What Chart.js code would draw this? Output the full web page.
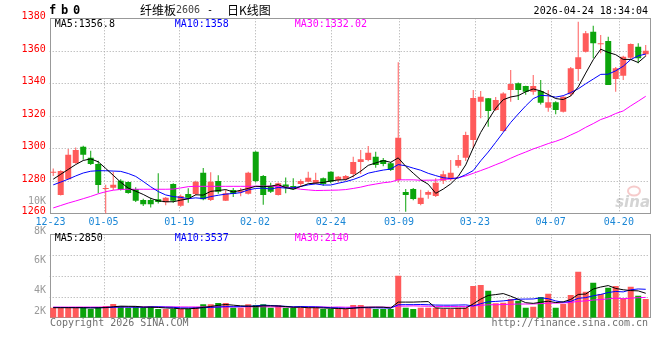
<!DOCTYPE html>
<html>
<head>
<meta charset="utf-8">
<script src="https://cdn.jsdelivr.net/npm/chart.js"></script>
<style>
  html, body { margin: 0; padding: 0; background: #fff; }
  #wrap { position: relative; width: 660px; height: 360px; overflow: hidden; }
  canvas { position: absolute; left: 0; }
  #k { top: 0; }
  #v { top: 190px; }
</style>
</head>
<body>
<div id="wrap">
  <canvas id="k" width="660" height="230"></canvas>
  <canvas id="v" width="660" height="170"></canvas>
</div>
<script>
// trading days shown on the chart
const dates = ['12-23','12-24','12-25','12-26','12-29','12-30','12-31',
  '01-05','01-06','01-07','01-08','01-09','01-12','01-13','01-14','01-15','01-16',
  '01-19','01-20','01-21','01-22','01-23','01-26','01-27','01-28','01-29','01-30',
  '02-02','02-03','02-04','02-05','02-06','02-09','02-10','02-11','02-12','02-13',
  '02-24','02-25','02-26','02-27',
  '03-02','03-03','03-04','03-05','03-06','03-09','03-10','03-11','03-12','03-13',
  '03-16','03-17','03-18','03-19','03-20','03-23','03-24','03-25','03-26','03-27','03-30','03-31',
  '04-01','04-02','04-03','04-07','04-08','04-09','04-10','04-13','04-14','04-15','04-16','04-17',
  '04-20','04-21','04-22','04-23','04-24'];

const open = [1285.0,1271.3,1281.0,1291.0,1301.0,1294.2,1290.3,1275.0,1275.8,1280.0,
  1279.3,1275.0,1268.2,1268.2,1268.6,1266.8,1278.0,1264.7,1271.9,1271.9,
  1285.0,1268.2,1279.9,1267.8,1274.3,1273.0,1272.0,1297.9,1283.0,1276.8,
  1271.3,1277.8,1276.8,1278.0,1279.4,1278.5,1281.5,1285.6,1280.5,1281.0,
  1284.2,1291.6,1292.8,1294.8,1292.8,1290.8,1280.5,1273.1,1275.0,1265.7,
  1271.4,1270.6,1280.1,1281.0,1289.3,1294.2,1305.1,1328.7,1330.8,1323.6,
  1310.6,1335.9,1340.0,1338.3,1334.8,1335.3,1325.0,1328.3,1322.5,1333.2,
  1348.8,1359.4,1371.8,1364.0,1366.0,1342.6,1344.7,1355.8,1362.5,1357.9];
const high = [1287.5,1286.5,1299.5,1300.5,1301.5,1298.5,1292.4,1277.5,1285.6,1281.0,
  1279.5,1276.0,1269.0,1269.5,1284.6,1270.0,1278.5,1271.5,1275.4,1280.0,
  1287.9,1285.2,1283.4,1274.5,1275.5,1275.5,1285.6,1298.2,1283.5,1278.8,
  1279.0,1282.0,1281.5,1281.0,1285.6,1284.9,1282.0,1285.8,1283.0,1283.5,
  1294.8,1299.0,1301.4,1297.9,1294.0,1291.5,1353.0,1275.0,1275.5,1274.5,
  1274.0,1281.5,1286.2,1292.8,1295.9,1310.2,1335.9,1335.3,1331.0,1331.5,
  1334.5,1348.2,1340.5,1338.5,1345.1,1342.0,1335.9,1329.0,1332.0,1350.0,
  1377.9,1372.2,1375.4,1369.7,1368.7,1350.0,1357.0,1364.5,1364.6,1363.6];
const low = [1283.0,1271.0,1281.0,1290.5,1293.0,1289.7,1272.3,1259.5,1274.3,1274.0,
  1272.0,1267.0,1264.5,1263.5,1266.0,1265.0,1266.5,1264.0,1266.5,1271.0,
  1268.0,1267.5,1272.0,1267.5,1270.0,1270.5,1271.5,1279.0,1265.3,1272.5,
  1271.0,1272.3,1274.5,1276.5,1279.0,1278.0,1277.0,1278.5,1279.0,1280.0,
  1282.0,1284.2,1292.0,1288.1,1289.0,1286.0,1279.0,1261.0,1268.0,1265.0,
  1269.0,1270.0,1278.0,1280.0,1288.0,1292.2,1300.0,1318.5,1313.3,1323.0,
  1310.0,1328.7,1329.7,1333.0,1333.0,1327.0,1322.5,1321.0,1322.0,1332.0,
  1341.4,1359.0,1355.4,1358.5,1339.0,1334.8,1342.0,1355.0,1352.3,1356.5];
const close = [1285.5,1286.0,1296.0,1299.0,1296.0,1290.3,1277.4,1275.5,1277.6,1274.5,
  1272.5,1267.8,1265.5,1265.5,1267.0,1269.6,1267.8,1270.6,1269.6,1279.4,
  1268.6,1279.4,1273.2,1272.3,1271.9,1274.0,1285.0,1279.9,1271.3,1273.3,
  1278.5,1276.0,1274.8,1279.9,1281.9,1280.5,1278.0,1279.4,1282.5,1283.0,
  1291.6,1293.2,1297.3,1289.7,1290.3,1286.6,1306.5,1271.3,1268.8,1269.6,
  1273.1,1278.8,1284.0,1285.0,1292.8,1308.2,1331.0,1331.8,1323.0,1329.7,
  1333.8,1339.6,1335.9,1334.8,1338.3,1328.1,1328.3,1323.6,1331.8,1349.2,
  1356.0,1370.8,1364.6,1364.5,1339.0,1349.2,1356.4,1364.2,1355.4,1360.1];

const ma5 = [1281.0,1284.0,1287.0,1290.0,1292.5,1293.5,1291.7,1287.6,1283.4,1279.1,
  1275.5,1273.6,1271.6,1269.2,1267.7,1267.1,1267.1,1268.1,1268.9,1271.4,
  1271.2,1273.5,1274.0,1274.6,1273.1,1274.2,1275.3,1276.6,1276.4,1276.7,
  1277.6,1275.8,1274.8,1276.5,1278.2,1278.6,1279.0,1279.9,1280.5,1280.7,
  1282.9,1285.9,1289.5,1291.0,1292.4,1291.4,1294.1,1288.9,1284.7,1280.6,
  1277.9,1272.3,1274.9,1278.1,1282.7,1289.8,1300.2,1309.8,1317.4,1324.7,
  1329.9,1331.6,1332.4,1334.8,1336.5,1335.3,1333.1,1330.6,1330.0,1332.2,
  1337.8,1346.3,1354.5,1361.0,1359.0,1357.6,1354.7,1354.7,1352.8,1356.8];
const ma10 = [1277.5,1279.2,1281.0,1283.0,1284.8,1285.9,1286.2,1286.2,1286.0,1285.8,
  1284.5,1282.7,1279.6,1276.3,1273.4,1271.3,1270.3,1269.8,1269.0,1269.5,
  1269.1,1270.3,1271.1,1271.8,1272.2,1272.7,1274.4,1275.3,1275.5,1274.9,
  1275.9,1275.5,1275.7,1276.5,1277.5,1278.1,1277.4,1277.4,1278.5,1279.5,
  1280.8,1282.5,1284.7,1285.7,1286.6,1287.2,1290.0,1289.2,1287.8,1286.5,
  1284.6,1283.2,1281.9,1281.4,1281.7,1283.8,1286.3,1292.3,1297.7,1303.7,
  1309.8,1315.9,1321.1,1326.1,1330.6,1332.6,1332.3,1331.5,1332.4,1334.3,
  1336.6,1339.7,1342.6,1345.5,1345.6,1347.7,1350.5,1354.6,1356.9,1358];
const ma30 = [1263.3,1264.8,1266.3,1267.6,1269.0,1270.4,1272.0,1273.3,1274.2,1274.7,
  1274.8,1274.8,1274.8,1274.8,1274.8,1274.8,1274.9,1275.6,1276.4,1276.6,
  1276.6,1276.6,1276.6,1276.6,1276.6,1276.6,1276.6,1276.7,1276.7,1276.7,
  1276.5,1276.2,1275.5,1274.8,1274.4,1274.0,1274.1,1274.2,1274.3,1274.6,
  1275.3,1276.1,1277.2,1278.0,1278.8,1279.3,1280.6,1280.6,1280.6,1280.3,
  1280.4,1280.4,1280.8,1281.2,1281.9,1283.0,1284.6,1286.3,1288.0,1289.9,
  1291.7,1293.9,1295.9,1297.7,1299.6,1301.2,1302.9,1304.3,1306.0,1308.2,
  1310.3,1312.9,1315.2,1317.7,1319.3,1321.4,1323.0,1326.1,1329.0,1332.02];

const vol = [370,370,370,370,370,141,485,657,1001,657,
  370,599,370,599,141,141,141,141,141,485,
  943,943,1173,1173,370,370,943,829,943,370,
  771,370,370,370,370,370,141,141,141,141,
  829,829,370,141,141,141,5874,370,141,370,
  370,370,141,141,370,370,4096,4268,3294,1115,
  1230,1860,1574,370,542,2204,2778,370,1001,2548,
  6561,3122,4670,2720,3810,4096,1975,3982,2434,1860];
const volMa5 = [370,370,370,370,370,324,347,405,531,634,
  611,599,473,462,416,324,278,187,187,256,
  416,576,783,920,806,691,645,576,691,691,
  657,565,450,450,370,370,324,278,233,187,
  279,416,462,462,462,324,1333,1333,1333,1379,
  1425,324,278,278,278,278,1024,1849,2480,2629,
  2801,2353,1815,1230,1115,1310,1494,1253,1379,1780,
  2652,2720,3580,3924,4177,3684,3454,3317,3259,2850];
const volMa10 = [420,410,400,390,380,370,370,380,420,502,
  468,473,439,496,525,468,439,330,324,336,
  370,427,485,554,531,554,611,680,806,748,
  674,605,513,571,531,513,445,364,341,278,
  324,370,370,347,324,302,875,898,898,921,
  875,829,806,806,829,852,674,1064,1379,1454,
  1540,1689,1832,1855,1872,2055,1924,1534,1304,1448,
  1981,2107,2417,2652,2978,3168,3087,3449,3592,3537];
const volMa30 = [470,470,475,480,480,480,485,490,500,510,
  510,515,515,520,520,515,510,505,500,500,
  505,510,515,520,520,520,525,530,530,529,
  504,502,479,540,529,512,498,458,490,454,
  456,468,456,491,462,456,643,647,682,649,
  624,601,563,575,561,556,664,775,873,884,
  913,963,1003,1003,1008,1070,1157,1165,1194,1274,
  1465,1541,1685,1771,1893,2025,1895,2015,2092,2140];

const axisDates = ['12-23','01-05','01-19','02-02','02-24','03-09','03-23','04-07','04-20'];
const volTickValues = [10000, 8000, 6000, 4000, 2000];
const volTickLabels = ['10K','8K','6K','4K','2K'];

const UP = '#ff5a5a', DOWN = '#0ba40b';
const MONO = "'DejaVu Sans Mono', monospace";
const CJK = "'Noto Sans CJK SC', sans-serif";
const colorAt = i => close[i] >= open[i] ? UP : DOWN;
const pts = arr => arr.map((v, i) => ({ x: i, y: v }));
// the date grid of the original drifts slightly against the candles
const tickPos = i => i - 0.37 + i * 0.0105;
const axisTicks = axisDates.map(d => tickPos(dates.indexOf(d)));
const VOL_MIN = -1350, VOL_MAX = 12995;

function xScale(show) {
  return {
    type: 'linear', min: -0.47, max: 79.53, offset: false, display: show,
    afterBuildTicks: s => { s.ticks = axisTicks.map(v => ({ value: v })); },
    grid: { display: false, drawTicks: false, offset: false },
    border: { display: false },
    ticks: {
      autoSkip: false, maxRotation: 0, padding: 3, color: '#1b87d6',
      font: { family: MONO, size: 10 },
      callback: (v, idx) => axisDates[idx]
    },
    afterFit: s => { if (show) s.height = 16.7; }
  };
}

function dotted(ctx, x1, y1, x2, y2) {
  ctx.beginPath();
  ctx.moveTo(x1, y1);
  ctx.lineTo(x2, y2);
  ctx.stroke();
}

function drawFrame(chart, hLines) {
  const { ctx, chartArea: a } = chart;
  const xs = chart.scales.x;
  ctx.save();
  ctx.strokeStyle = '#a8a8a8';
  ctx.lineWidth = 1;
  ctx.setLineDash([1, 2]);
  hLines.forEach(y => {
    const yy = Math.round(y) + 0.5;
    dotted(ctx, a.left, yy, a.right, yy);
  });
  axisTicks.slice(1).forEach(v => {
    const xx = Math.round(xs.getPixelForValue(v)) + 0.5;
    dotted(ctx, xx, a.top, xx, a.bottom);
  });
  ctx.setLineDash([]);
  ctx.strokeStyle = '#999';
  ctx.strokeRect(Math.round(a.left) + 0.5, Math.round(a.top) + 0.5,
    Math.round(a.right - a.left), Math.round(a.bottom - a.top));
  ctx.restore();
}

function legendText(chart, items, dy) {
  const { ctx, chartArea: a } = chart;
  ctx.save();
  ctx.font = '10px ' + MONO;
  ctx.textBaseline = 'middle';
  ctx.textAlign = 'left';
  items.forEach((it, k) => {
    ctx.fillStyle = it[1];
    ctx.fillText(it[0], a.left + 5 + k * 120, a.top + dy);
  });
  ctx.restore();
}

const kDeco = {
  id: 'kDeco',
  beforeDatasetsDraw(chart) {
    const ys = chart.scales.y;
    const lines = ys.ticks.map(t => ys.getPixelForValue(t.value))
      .filter(p => p > chart.chartArea.top + 1 && p < chart.chartArea.bottom - 1);
    drawFrame(chart, lines);
    // sina watermark
    const ctx = chart.ctx;
    ctx.save();
    ctx.strokeStyle = 'rgba(235,140,140,0.45)';
    ctx.lineWidth = 2;
    ctx.beginPath();
    ctx.ellipse(634, 191, 6, 4.5, 0, 0, Math.PI * 2);
    ctx.stroke();
    ctx.fillStyle = 'rgba(160,160,160,0.45)';
    ctx.font = "italic bold 15px 'DejaVu Sans', sans-serif";
    ctx.textAlign = 'right';
    ctx.textBaseline = 'alphabetic';
    ctx.fillText('sina', 650, 207);
    ctx.restore();
  },
  afterDraw(chart) {
    const ctx = chart.ctx;
    ctx.save();
    ctx.fillStyle = '#000';
    ctx.textBaseline = 'middle';
    ctx.font = "bold 12px 'DejaVu Sans Mono', monospace";
    if ('letterSpacing' in ctx) { ctx.letterSpacing = '4.8px'; ctx.fillText('fb0', 49, 11); ctx.letterSpacing = '0px'; }
    else ctx.fillText('f b 0', 49, 11);
    // title, drawn in pieces to keep the original spacing
    ctx.font = '12px ' + CJK;
    ctx.fillText('纤维板', 140, 10);
    ctx.fillText('日K线图', 227, 10);
    ctx.font = '10px ' + MONO;
    ctx.fillStyle = '#444';
    ctx.fillText('2606', 176, 10.5);
    ctx.fillStyle = '#000';
    ctx.fillText('-', 207, 10.5);
    ctx.textAlign = 'right';
    ctx.fillText('2026-04-24 18:34:04', 648, 11.5);
    ctx.restore();
    legendText(chart, [
      ['MA5:' + ma5[ma5.length - 1], '#000'],
      ['MA10:' + ma10[ma10.length - 1], '#0000ff'],
      ['MA30:' + ma30[ma30.length - 1], '#ff00ff']
    ], 6.2);
  }
};

const vDeco = {
  id: 'vDeco',
  beforeDatasetsDraw(chart) {
    const a = chart.chartArea;
    const h = a.bottom - a.top;
    drawFrame(chart, [1, 2, 3].map(k => a.top + h * k / 4));
  },
  afterDraw(chart) {
    const { ctx, chartArea: a } = chart;
    const yl = chart.scales.yl;
    ctx.save();
    ctx.font = '10px ' + MONO;
    ctx.textBaseline = 'middle';
    ctx.textAlign = 'right';
    ctx.fillStyle = '#9a9a9a';
    volTickValues.forEach((v, k) => {
      const p = Math.min(yl.getPixelForValue(v), a.bottom - 6.7);
      ctx.fillText(volTickLabels[k], 46, p);
    });
    ctx.fillStyle = '#707070';
    ctx.fillText('http://finance.sina.com.cn', 648, a.bottom + 5.8);
    ctx.textAlign = 'left';
    ctx.fillText('Copyright 2026 SINA.COM', 50, a.bottom + 5.8);
    ctx.restore();
    legendText(chart, [
      ['MA5:' + volMa5[volMa5.length - 1], '#000'],
      ['MA10:' + volMa10[volMa10.length - 1], '#0000ff'],
      ['MA30:' + volMa30[volMa30.length - 1], '#ff00ff']
    ], 4.5);
  }
};

const common = {
  responsive: false,
  animation: false,
  devicePixelRatio: 1,
  events: [],
  plugins: { legend: { display: false }, tooltip: { enabled: false } }
};

function maLine(data, color) {
  return { type: 'line', data: pts(data), borderColor: color, borderWidth: 1,
    pointRadius: 0, tension: 0, fill: false, order: 0 };
}

new Chart(document.getElementById('k'), {
  type: 'bar',
  data: {
    datasets: [
      maLine(ma5, '#000000'),
      maLine(ma10, '#0000ff'),
      maLine(ma30, '#ff00ff'),
      { type: 'bar', data: open.map((o, i) => ({ x: i, y: [o, close[i]] })),
        backgroundColor: c => colorAt(c.dataIndex), barThickness: 6, minBarLength: 1,
        grouped: false, inflateAmount: 0, order: 1 },
      { type: 'bar', data: low.map((l, i) => ({ x: i, y: [l, high[i]] })),
        backgroundColor: c => colorAt(c.dataIndex), barThickness: 1,
        grouped: false, inflateAmount: 0, order: 2 }
    ]
  },
  options: Object.assign({}, common, {
    layout: { padding: { top: 18.3, right: 10.3, left: 0, bottom: 0 } },
    scales: {
      x: xScale(true),
      y: {
        type: 'linear', position: 'left', min: 1260, max: 1380,
        ticks: { stepSize: 20, color: '#ff0000', padding: 4, labelOffset: -1.5,
          font: { family: MONO, size: 10 }, callback: v => String(v) },
        grid: { display: false, drawTicks: false },
        border: { display: false },
        afterFit: s => { s.width = 49.7; }
      }
    }
  }),
  plugins: [kDeco]
});

new Chart(document.getElementById('v'), {
  type: 'bar',
  data: {
    datasets: [
      maLine(volMa5, '#000000'),
      maLine(volMa10, '#0000ff'),
      maLine(volMa30, '#ff00ff'),
      { type: 'bar', data: vol.map((v, i) => ({ x: i, y: v })), base: VOL_MIN,
        backgroundColor: c => colorAt(c.dataIndex), barThickness: 6,
        grouped: false, inflateAmount: 0, order: 1 }
    ]
  },
  options: Object.assign({}, common, {
    layout: { padding: { top: 44.3, right: 10.3, left: 49.7, bottom: 42.3 } },
    scales: {
      x: xScale(false),
      y: { type: 'linear', display: false, min: VOL_MIN, max: VOL_MAX },
      yl: { type: 'linear', display: false, min: 2162, max: 7778 }
    }
  }),
  plugins: [vDeco]
});
</script>
</body>
</html>
